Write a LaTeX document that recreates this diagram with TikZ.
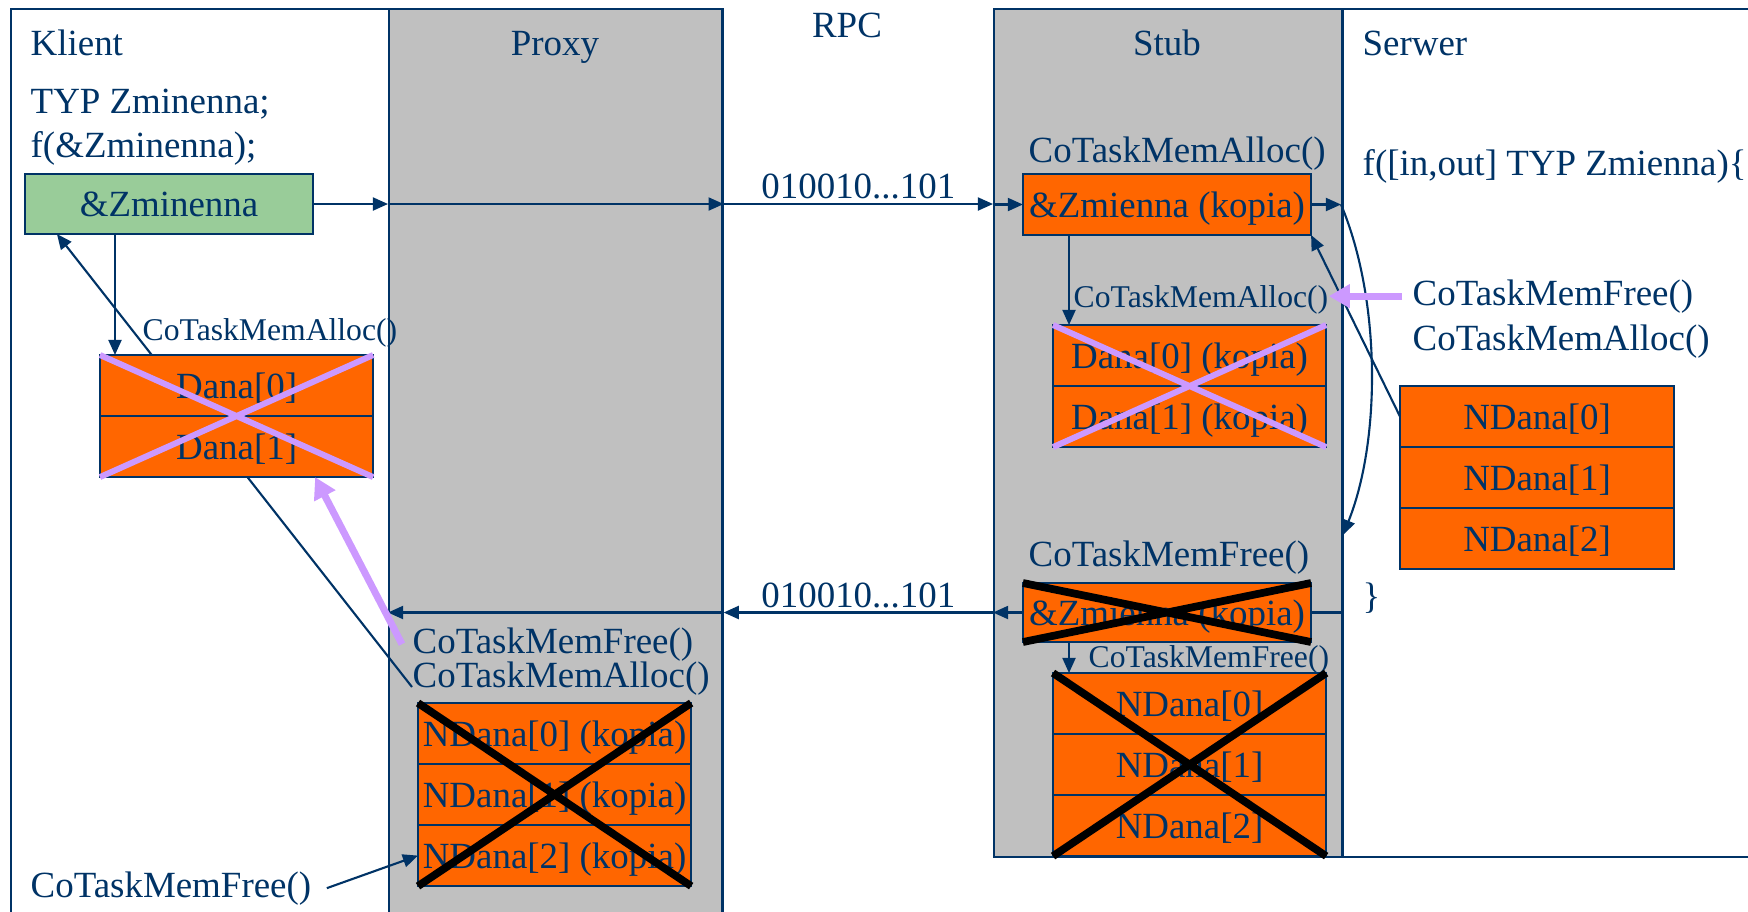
\documentclass[tikz,border=0pt]{standalone}
\usepackage{fontspec}
\setmainfont{Liberation Serif}
\usetikzlibrary{arrows.meta,positioning}
\definecolor{navy}{HTML}{003366}
\definecolor{colgray}{HTML}{C0C0C0}
\definecolor{boxorange}{HTML}{FF6600}
\definecolor{boxgreen}{HTML}{99CC99}
\definecolor{lilac}{HTML}{CC99FF}

\begin{document}
\begin{tikzpicture}[
    x=0.01cm, y=-0.01cm,
    >={Triangle[length=4.3pt,width=3.7pt]},
    txt/.style={inner sep=0pt, text=navy, font=\fontsize{10.5}{12}\selectfont},
    callsm/.style={txt, font=\fontsize{9}{11}\selectfont},
    column/.style={
        rectangle, draw=navy, line width=0.7pt, anchor=north west,
        minimum height=9.5cm, inner sep=0pt
    },
    cell/.style={
        rectangle, draw=navy, line width=0.6pt, fill=boxorange, text=navy,
        font=\fontsize{10.5}{12}\selectfont, minimum width=2.73cm,
        minimum height=0.61cm, inner sep=0pt, outer sep=0pt, text depth=0pt
    },
    link/.style={->, draw=navy, line width=0.6pt},
    hint/.style={-{Triangle[length=6pt,width=6.5pt]}, draw=lilac, line width=2pt},
    freed/.style={draw=lilac, line width=1.7pt},
    dropped/.style={draw=black, line width=2.2pt},
]
\useasboundingbox (0,0) rectangle (1748,911);
\clip (0,0) rectangle (1748,911);

% ── Columns ──────────────────────────────────────────────────
\node[column, minimum width=3.78cm] (klient) at (10,8) {};
\node[column, fill=colgray, minimum width=3.33cm] (proxy) at (388,8) {};
\node[column, fill=colgray, minimum width=3.48cm, minimum height=8.47cm] (stub) at (993,8) {};
\node[column, minimum width=5cm, minimum height=8.47cm] (serwer) at (1341,8) {};

\node[txt, anchor=base west] (klientlbl) at (30,55) {Klient};
\node[txt, anchor=base] (proxylbl) at (555,55) {Proxy};
\node[txt, anchor=base] (rpclbl) at (847,37) {RPC};
\node[txt, anchor=base] (stublbl) at (1167,55) {Stub};
\node[txt, anchor=base west] (serwerlbl) at (1362,55) {Serwer};

% ── Klient ───────────────────────────────────────────────────
\node[txt, anchor=base west] (decl) at (30,113) {TYP Zminenna;};
\node[txt, anchor=base west] (fcall) at (30,157) {f(\&Zminenna);};
\node[cell, fill=boxgreen, minimum width=2.88cm, minimum height=0.6cm] (zm) at (169,204) {\&Zminenna};
\node[callsm, anchor=base west] (kalloc) at (142,340) {CoTaskMemAlloc()};
\node[txt, anchor=base west] (cfree) at (30,897) {CoTaskMemFree()};

% ── Proxy ────────────────────────────────────────────────────
\node[txt, anchor=base west] (pfree) at (412,653) {CoTaskMemFree()};
\node[txt, anchor=base west] (palloc) at (412,687) {CoTaskMemAlloc()};
\draw[link] (palloc.base west) -- ([xshift=0.32cm]zm.south west);

\node[cell, anchor=north west] (d0) at (100,355) {Dana[0]};
\node[cell, below=0pt of d0] (d1) {Dana[1]};

\node[cell, anchor=north west] (pk0) at (418,703) {NDana[0] (kopia)};
\node[cell, below=0pt of pk0] (pk1) {NDana[1] (kopia)};
\node[cell, below=0pt of pk1] (pk2) {NDana[2] (kopia)};

% ── Stub ─────────────────────────────────────────────────────
\node[txt, anchor=base west] (salloc) at (1028,162) {CoTaskMemAlloc()};
\node[cell, minimum width=2.88cm] (kc) at (1167,204.5) {\&Zmienna (kopia)};
\node[callsm, anchor=base west] (sdalloc) at (1073,307) {CoTaskMemAlloc()};
\node[cell, anchor=north west] (sd0) at (1053,325) {Dana[0] (kopia)};
\node[cell, below=0pt of sd0] (sd1) {Dana[1] (kopia)};

\node[txt, anchor=base west] (sfree) at (1028,566) {CoTaskMemFree()};
\node[cell, minimum width=2.88cm, minimum height=0.59cm] (kc2) at (1167,612.5) {\&Zmienna (kopia)};
\node[callsm, anchor=base west] (snfree) at (1088,667) {CoTaskMemFree()};
\node[cell, anchor=north west] (sn0) at (1053,673) {NDana[0]};
\node[cell, below=0pt of sn0] (sn1) {NDana[1]};
\node[cell, below=0pt of sn1] (sn2) {NDana[2]};

% ── Serwer ───────────────────────────────────────────────────
\node[txt, anchor=base west] (fdef) at (1362,175) {f([in,out] TYP Zmienna)\{};
\node[txt, anchor=base west] (rfree) at (1412,305) {CoTaskMemFree()};
\node[txt, anchor=base west] (ralloc) at (1412,350) {CoTaskMemAlloc()};
\node[cell, anchor=north west, minimum width=2.74cm] (nd0) at (1400,386) {NDana[0]};
\node[cell, below=0pt of nd0, minimum width=2.74cm] (nd1) {NDana[1]};
\node[cell, below=0pt of nd1, minimum width=2.74cm] (nd2) {NDana[2]};
\node[txt, anchor=base west] (brace) at (1362,608) {\}};

\coordinate (kdown) at (115,0);
\coordinate (sdown) at (1069,0);
\coordinate (back) at (1343,535);

% ── Call: Klient -> Serwer ───────────────────────────────────
\draw[link] (zm.east) -- (proxy.west |- zm.east);
\draw[link] (proxy.west |- zm.east) -- (proxy.east |- zm.east);
\draw[link] (proxy.east |- zm.east) -- node[txt, above=1pt] (bits1) {010010...101} (stub.west |- zm.east);
\draw[link] (stub.west |- kc.west) -- (kc.west);
\draw[link] (kc.east) -- (serwer.west |- kc.east);
\draw[link] (serwer.west |- kc.east) .. controls +(40,95) and +(38,-95) .. (back);

% ── Return: Serwer -> Klient ─────────────────────────────────
\draw[navy, line width=0.6pt] (serwer.west |- kc2.east) -- (kc2.east);
\draw[link] (kc2.west) -- (stub.west |- kc2.west);
\draw[link] (stub.west |- kc2.west) -- node[txt, above=1pt] (bits2) {010010...101} (proxy.east |- kc2.west);
\draw[link] (proxy.east |- kc2.west) -- (proxy.west |- kc2.west);

% ── Allocations ──────────────────────────────────────────────
\draw[link] (zm.south -| kdown) -- (d0.north -| kdown);
\draw[link] (kc.south -| sdown) -- (sd0.north -| sdown);
\draw[link] (kc2.south -| sdown) -- (sn0.north -| sdown);
\draw[link] (nd0.west) -- (kc.south east);
\draw[link] ([xshift=0.15cm]cfree.east) -- (pk2.west);

% ── Freed blocks ─────────────────────────────────────────────
\draw[freed] (d0.north west) -- (d1.south east) (d0.north east) -- (d1.south west);
\draw[freed] (sd0.north west) -- (sd1.south east) (sd0.north east) -- (sd1.south west);
\draw[dropped] (pk0.north west) -- (pk2.south east) (pk0.north east) -- (pk2.south west);
\draw[dropped] (kc2.north west) -- (kc2.south east) (kc2.north east) -- (kc2.south west);
\draw[dropped] (sn0.north west) -- (sn2.south east) (sn0.north east) -- (sn2.south west);

\draw[hint] ([xshift=-0.1cm]pfree.west) -- ([xshift=-0.58cm]d1.south east);
\draw[hint] ([xshift=-0.1cm]rfree.west) -- (rfree.west -| sdalloc.east);

\end{tikzpicture}
\end{document}
